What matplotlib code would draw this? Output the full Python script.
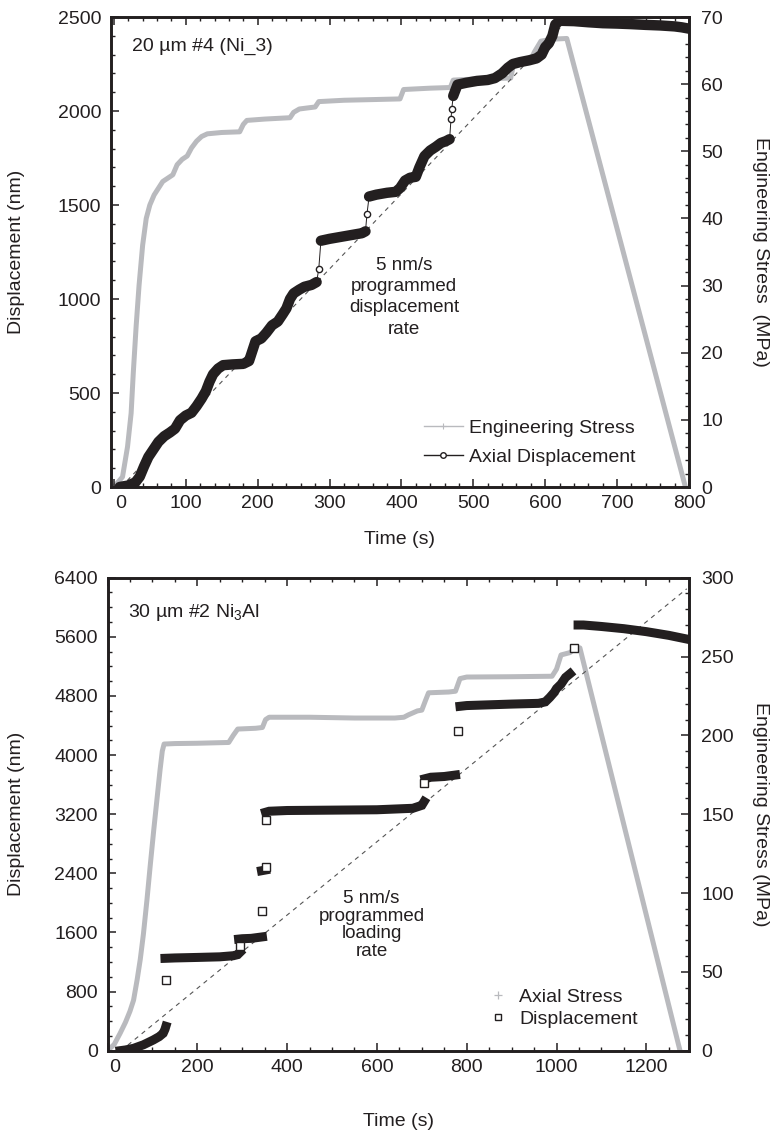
import numpy as np
import matplotlib
matplotlib.use('Agg')
import matplotlib.pyplot as plt
from matplotlib.lines import Line2D
from matplotlib.ticker import MultipleLocator, FuncFormatter

plt.rcParams['font.family'] = ['Liberation Sans', 'DejaVu Sans']
plt.rcParams['mathtext.fontset'] = 'custom'
plt.rcParams['mathtext.rm'] = 'Liberation Sans'
plt.rcParams['mathtext.it'] = 'Liberation Sans:italic'

# ---------------- Top panel data: 20 um #4 (Ni_3) ----------------
top_stress_t = [0, 12, 19, 24, 27, 31, 35, 40, 45, 50, 56, 62, 68, 75, 82, 88, 95, 102, 108, 115,
                122, 130, 150, 175, 180, 185, 210, 245, 250, 258, 280, 285, 320, 360, 398, 403,
                440, 468, 472, 510, 552, 556, 578, 585, 594, 610, 630, 795]
top_stress_mpa = [0, 1.5, 6, 11, 17, 24, 30, 36, 40, 42, 43.5, 44.5, 45.5, 46, 46.5, 48, 48.8, 49.3,
                  50.5, 51.5, 52.2, 52.6, 52.8, 52.9, 54.0, 54.6, 54.8, 55.0, 55.8, 56.3, 56.6, 57.4,
                  57.6, 57.7, 57.8, 59.2, 59.4, 59.5, 60.6, 60.8, 60.9, 63.0, 63.2, 64.8, 66.4, 66.7,
                  66.8, 0]

# axial displacement band segments (NaN separates segments)
top_disp_t = [8, 20, 30, 36, 42, 48, 55, 62, 70, 78, 85, 92, 100, 108, 115, 122, 128, 133, 138, 145,
              152, 165, 180, 188, 197, 205, 212, 220, 228, 235, 240, 245, 250, 258, 265, 275, 282,
              np.nan,
              288, 300, 315, 330, 345, 350,
              np.nan,
              355, 365, 380, 392, 398, 405, 412, 420, 425, 432, 440, 448, 455, 462, 467,
              np.nan,
              472, 478, 490, 505, 520, 530, 540, 548, 555, 565, 578, 588, 595, 600, 605, 610,
              614, 620, 640, 660, 680, 700, 720, 740, 760, 780, 790, 800]
top_disp_nm = [0, 8, 25, 55, 110, 160, 200, 240, 270, 290, 310, 355, 380, 395, 430, 470, 510, 560,
               600, 630, 648, 652, 655, 670, 775, 790, 820, 860, 880, 920, 950, 1000, 1030, 1050,
               1065, 1075, 1090,
               np.nan,
               1310, 1320, 1330, 1340, 1350, 1360,
               np.nan,
               1545, 1555, 1565, 1570, 1590, 1630, 1645, 1650, 1700, 1760, 1790, 1810, 1830, 1840,
               1850,
               np.nan,
               2080, 2140, 2150, 2160, 2165, 2175, 2200, 2230, 2250, 2260, 2270, 2280, 2300, 2340,
               2360, 2400,
               2460, 2480, 2478, 2472, 2467, 2465, 2462, 2458, 2455, 2450, 2445, 2438]
# isolated points during the displacement bursts
top_jump_t = [285, 352, 469, 470]
top_jump_nm = [1160, 1450, 1960, 2010]

# programmed rate reference line (end points)
top_ref_t = [10, 622]
top_ref_nm = [0, 2448]

# ---------------- Bottom panel data: 30 um #2 Ni3Al ----------------
bot_stress_t = [0, 15, 28, 40, 50, 58, 66, 73, 80, 88, 95, 103, 110, 117, 122, 126, 150, 200, 270,
                280, 290, 330, 345, 352, 360, 450, 550, 640, 660, 670, 690, 700, 708, 715, 760, 775,
                785, 800, 900, 990, 1000, 1010, 1030, 1040, 1052, 1275]
bot_stress_mpa = [0, 4, 11, 18, 25, 32, 45, 58, 74, 96, 117, 140, 159, 178, 190, 194.5, 194.8, 195,
                  195.5, 200, 204, 204.5, 205, 210, 211.5, 211.5, 211, 211, 211.5, 213, 215.5, 216,
                  222, 227, 227.5, 228, 236, 237, 237.2, 237.5, 242, 251, 252.5, 255, 255.5, 0]

bot_disp_t = [28, 40, 58, 80, 102, 115, 124, 128, 130,
              np.nan,
              128, 150, 200, 250, 280, 290, 295,
              np.nan,
              292, 300, 320, 345,
              np.nan,
              343, 352,
              np.nan,
              352, 360, 400, 500, 600, 680, 700, 705,
              np.nan,
              707, 720, 750, 775,
              np.nan,
              785, 800, 850, 900, 960, 975, 985, 995, 1000, 1010, 1020, 1030,
              np.nan,
              1048, 1060, 1100, 1150, 1200, 1250, 1290]
bot_disp_nm = [0, 10, 32, 80, 145, 190, 235, 290, 330,
               np.nan,
               1250, 1255, 1262, 1270, 1285, 1300, 1330,
               np.nan,
               1510, 1515, 1520, 1540,
               np.nan,
               2435, 2445,
               np.nan,
               3226, 3240, 3250, 3255, 3260, 3280, 3320, 3370,
               np.nan,
               3680, 3700, 3710, 3730,
               np.nan,
               4660, 4670, 4680, 4690, 4700, 4720, 4780, 4850, 4900, 4960, 5050, 5100,
               np.nan,
               5760, 5760, 5740, 5710, 5670, 5620, 5570]
bot_jump_t = [130, 295, 345, 354, 354, 705, 780, 1040]
bot_jump_nm = [957, 1421, 1890, 2482, 3122, 3620, 4330, 5450]

bot_ref_t = [30, 1290]
bot_ref_nm = [0, 6250]

# ---------------- styling ----------------
GRAY = '#b9babe'
INK = '#231f20'
FS = 14

fig = plt.figure(figsize=(7.71, 11.35), dpi=100)
W, H = 771.0, 1135.0


def ax_rect(l, r, t, b):
    return [l / W, 1 - b / H, (r - l) / W, (b - t) / H]


def zero_shift(v, pos):
    # the zero label of the time axis sits a little right of the corner
    return '   0' if abs(v) < 1e-9 else '%d' % v


def style_axes(ax, ax2, xmaj, xmin, ymaj, ymin, y2maj, y2min):
    for a in (ax, ax2):
        for s in a.spines.values():
            s.set_linewidth(1.9)
            s.set_color(INK)
    ax.xaxis.set_major_locator(MultipleLocator(xmaj))
    ax.xaxis.set_minor_locator(MultipleLocator(xmin))
    ax.xaxis.set_major_formatter(FuncFormatter(zero_shift))
    ax.yaxis.set_major_locator(MultipleLocator(ymaj))
    ax.yaxis.set_minor_locator(MultipleLocator(ymin))
    ax2.yaxis.set_major_locator(MultipleLocator(y2maj))
    ax2.yaxis.set_minor_locator(MultipleLocator(y2min))
    ax.tick_params(axis='x', which='both', direction='in', top=True, bottom=True,
                   labelsize=FS, colors=INK, pad=6)
    ax.tick_params(axis='y', which='both', direction='in', left=True, right=False,
                   labelsize=FS, colors=INK, pad=7)
    ax2.tick_params(axis='y', which='both', direction='in', right=True, left=False,
                    labelsize=FS, colors=INK, pad=9)
    for a in (ax, ax2):
        a.tick_params(which='major', length=6, width=1.1)
        a.tick_params(which='minor', length=3.2, width=1.0)


def connector(t_band, d_band, t_j, d_j):
    pts = [(t, d) for t, d in zip(t_band, d_band) if not np.isnan(t)]
    pts += list(zip(t_j, d_j))
    pts.sort(key=lambda p: p[0])
    return [p[0] for p in pts], [p[1] for p in pts]


# ================= TOP PANEL =================
ax1 = fig.add_axes(ax_rect(111, 689, 17, 487))
ax1b = ax1.twinx()
ax1.set_xlim(-4, 800)
ax1.set_ylim(0, 2500)
ax1b.set_ylim(0, 70)

ax1.plot(top_ref_t, top_ref_nm, ls=(0, (4, 4)), lw=0.8, color='#555555', zorder=1)
ax1b.plot(top_stress_t, top_stress_mpa, color=GRAY, lw=3.6, solid_joinstyle='round', zorder=2)
ct, cd = connector(top_disp_t, top_disp_nm, top_jump_t, top_jump_nm)
ax1.plot(ct, cd, color=INK, lw=0.7, zorder=3)
ax1.plot(top_disp_t, top_disp_nm, color=INK, lw=7.5, solid_capstyle='round',
         solid_joinstyle='round', zorder=4)
ax1.plot(top_jump_t, top_jump_nm, ls='none', marker='o', ms=4.5, mfc='white', mec=INK,
         mew=1.0, zorder=5)
ax1.set_zorder(ax1b.get_zorder() + 1)
ax1.patch.set_visible(False)

style_axes(ax1, ax1b, 100, 20, 500, 100, 10, 2)
ax1.set_xlabel('Time (s)', fontsize=FS, color=INK)
ax1.xaxis.label.set_va('center')
ax1.xaxis.set_label_coords(0.5, -(540 - 487) / 470)
ax1.set_ylabel('Displacement (nm)', fontsize=FS, color=INK)
ax1.yaxis.label.set_va('center')
ax1.yaxis.set_label_coords((17 - 111) / 578, 0.5)
ax1b.set_ylabel('Engineering Stress  (MPa)', fontsize=FS, color=INK, rotation=270)
ax1b.yaxis.label.set_va('center')
ax1b.yaxis.set_label_coords((760 - 111) / 578, 0.5)

ax1.text((131.7 - 111) / 578, (487 - 46.7) / 470, '20 µm #4 (Ni_3)', transform=ax1.transAxes,
         fontsize=FS, color=INK, ha='left', va='center')
ax1.text(404, 1010, '5 nm/s\nprogrammed\ndisplacement\nrate', fontsize=13.5, color=INK,
         ha='center', va='center', linespacing=1.33)

h1 = [Line2D([0, 0.5, 1], [0, 0, 0], color=GRAY, lw=1.0, marker='+', ms=5, mew=0.8,
             markevery=[1]),
      Line2D([0, 0.5, 1], [0, 0, 0], color=INK, lw=1.0, marker='o', ms=4, mfc='white', mec=INK,
             mew=1.0, markevery=[1])]
leg1 = ax1.legend(h1, ['Engineering Stress', 'Axial Displacement'], loc='center left',
                  bbox_to_anchor=((424 - 111) / 578, (487 - 442.5) / 470), frameon=False,
                  fontsize=FS, handlelength=2.0, handletextpad=0.3, labelspacing=0.6,
                  borderpad=0, borderaxespad=0)
for t in leg1.get_texts():
    t.set_color(INK)

# ================= BOTTOM PANEL =================
ax2 = fig.add_axes(ax_rect(107.5, 689, 577.7, 1050.7))
ax2b = ax2.twinx()
ax2.set_xlim(0, 1295)
ax2.set_ylim(0, 6400)
ax2b.set_ylim(0, 300)

ax2.plot(bot_ref_t, bot_ref_nm, ls=(0, (4, 4)), lw=0.8, color='#555555', zorder=1)
ax2b.plot(bot_stress_t, bot_stress_mpa, color=GRAY, lw=3.6, solid_joinstyle='round', zorder=2)
ax2.plot(bot_disp_t, bot_disp_nm, color=INK, lw=6.5, solid_capstyle='projecting',
         solid_joinstyle='miter', zorder=4)
ax2.plot(bot_jump_t, bot_jump_nm, ls='none', marker='s', ms=5.5, mfc='white', mec=INK,
         mew=1.0, zorder=5)
ax2.set_zorder(ax2b.get_zorder() + 1)
ax2.patch.set_visible(False)

style_axes(ax2, ax2b, 200, 50, 800, 200, 50, 10)
ax2.set_xlabel('Time (s)', fontsize=FS, color=INK)
ax2.xaxis.label.set_va('center')
ax2.xaxis.set_label_coords(0.5, -(1122 - 1050.7) / 473)
ax2.set_ylabel('Displacement (nm)', fontsize=FS, color=INK)
ax2.yaxis.label.set_va('center')
ax2.yaxis.set_label_coords((17 - 107.5) / 581.5, 0.5)
ax2b.set_ylabel('Engineering Stress (MPa)', fontsize=FS, color=INK, rotation=270)
ax2b.yaxis.label.set_va('center')
ax2b.yaxis.set_label_coords((760 - 107.5) / 581.5, 0.5)

ax2.text((128 - 107.5) / 581.5, (1050.7 - 613) / 473, r'30 µm #2 Ni$_{\mathrm{3}}$Al',
         transform=ax2.transAxes, fontsize=FS, color=INK, ha='left', va='center')
ax2.text(588, 1700, '5 nm/s\nprogrammed\nloading\nrate', fontsize=13.5, color=INK,
         ha='center', va='center', linespacing=1.06)

h2 = [Line2D([], [], ls='none', color=GRAY, marker='+', ms=6, mew=0.9),
      Line2D([], [], ls='none', marker='s', ms=5, mfc='white', mec=INK, mew=1.0)]
leg2 = ax2.legend(h2, ['Axial Stress', 'Displacement'], loc='center left',
                  bbox_to_anchor=((488 - 107.5) / 581.5, (1050.7 - 1008) / 473), frameon=False,
                  fontsize=FS, handlelength=1.0, handletextpad=0.6, labelspacing=0.2,
                  borderpad=0, borderaxespad=0)
for t in leg2.get_texts():
    t.set_color(INK)

fig.savefig('out.png', dpi=100)
